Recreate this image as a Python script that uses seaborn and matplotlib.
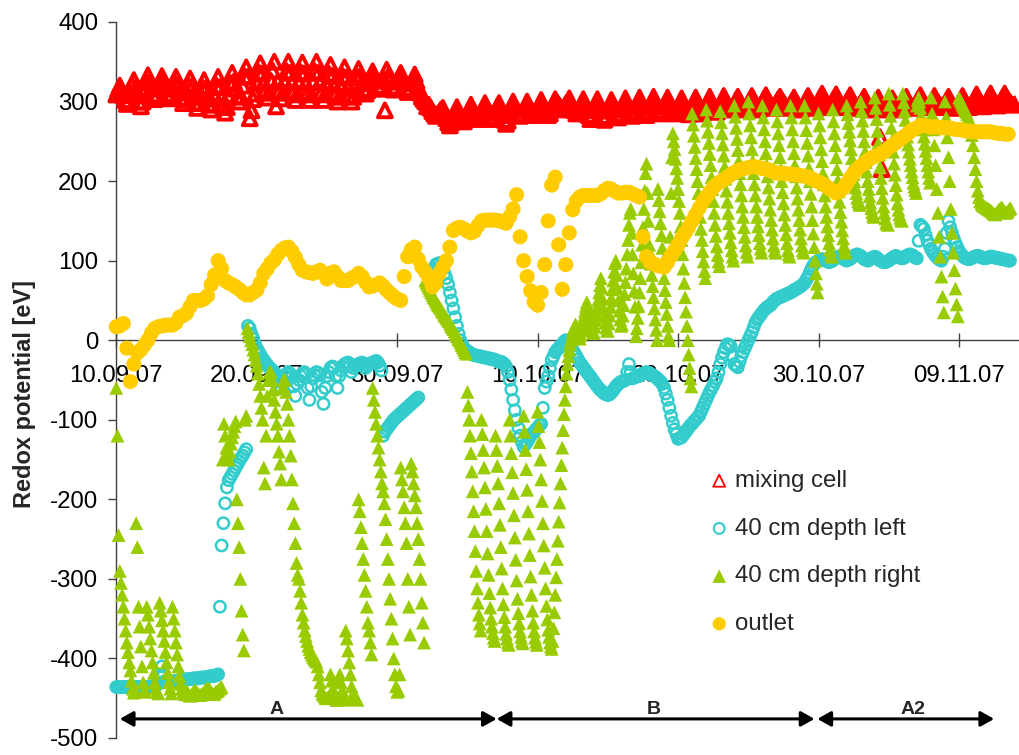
import numpy as np
import pandas as pd
import matplotlib
matplotlib.use("Agg")
import matplotlib.pyplot as plt
import seaborn as sns

# ---------------- data ----------------
start = "2007-09-10 00:00"
nan = np.nan

# mixing cell, one value every 3 h
mixing_cell = [
    309, 315, 320, 313, 308, 302, 297, 302,
    310, 320, 327, 317, 309, 300, 294, 300,
    315, 325, 333, 324, 317, 309, 303, 307,
    317, 325, 332, 324, 317, 310, 304, 308,
    316, 324, 331, 321, 313, 305, 298, 303,
    312, 321, 329, 318, 309, 299, 292, 298,
    308, 318, 327, 316, 307, 297, 290, 296,
    308, 320, 331, 318, 306, 295, 286, 293,
    308, 323, 336, 325, 316, 307, 300, 306,
    320, 332, 343, 331, 279, 289, 303, 310,
    324, 337, 348, 335, 324, 314, 305, 311,
    326, 339, 350, 294, 325, 314, 304, 311,
    325, 338, 350, 336, 324, 312, 302, 309,
    324, 337, 349, 335, 323, 311, 302, 309,
    325, 338, 350, 336, 324, 312, 302, 309,
    323, 335, 346, 332, 321, 309, 300, 306,
    321, 332, 343, 330, 319, 308, 300, 306,
    320, 331, 341, 332, 324, 316, 310, 314,
    325, 332, 338, 331, 326, 320, 316, 319,
    328, 289, 340, 332, 326, 319, 315, 318,
    325, 331, 336, 329, 323, 317, 312, 315,
    323, 329, 334, 326, 318, 311, 306, 303,
    300, 294, 296, 292, 288, 285, 282, 284,
    287, 290, 292, 285, 279, 274, 270, 274,
    282, 288, 293, 287, 282, 278, 275, 278,
    286, 291, 296, 290, 285, 281, 278, 281,
    287, 293, 298, 292, 286, 281, 278, 281,
    288, 294, 298, 290, 283, 277, 272, 276,
    285, 293, 300, 294, 290, 285, 282, 284,
    290, 295, 300, 295, 290, 286, 283, 285,
    291, 297, 302, 296, 291, 287, 283, 285,
    292, 298, 303, 299, 296, 293, 290, 292,
    297, 300, 304, 298, 293, 289, 285, 287,
    293, 298, 303, 295, 289, 283, 278, 282,
    289, 296, 303, 295, 289, 282, 277, 281,
    289, 296, 302, 295, 290, 285, 280, 283,
    292, 298, 304, 297, 292, 287, 282, 285,
    293, 299, 305, 298, 293, 288, 283, 286,
    294, 300, 306, 300, 294, 289, 285, 288,
    294, 300, 305, 299, 294, 289, 285, 287,
    293, 299, 304, 298, 293, 288, 284, 287,
    294, 300, 305, 299, 294, 289, 285, 288,
    295, 301, 306, 300, 296, 291, 287, 290,
    297, 302, 307, 302, 298, 294, 290, 292,
    297, 302, 306, 301, 297, 293, 290, 292,
    298, 303, 307, 302, 298, 294, 290, 293,
    299, 304, 308, 303, 299, 295, 292, 294,
    299, 303, 306, 302, 299, 295, 292, 293,
    297, 301, 305, 300, 297, 293, 290, 293,
    298, 303, 307, 302, 299, 295, 292, 295,
    301, 306, 310, 305, 300, 296, 293, 296,
    301, 305, 309, 304, 300, 296, 293, 295,
    300, 304, 308, 303, 299, 295, 292, 294,
    298, 302, 306, 301, 297, 293, 290, 292,
    297, 301, 305, 255, 215, 294, 290, 292,
    296, 300, 304, 300, 296, 293, 290, 293,
    298, 302, 306, 301, 297, 294, 292, 294,
    300, 304, 308, 303, 299, 296, 293, 295,
    299, 303, 307, 302, 299, 296, 293, 295,
    298, 302, 306, 301, 297, 294, 292, 294,
    299, 303, 307, 302, 298, 295, 293, 295,
    300, 305, 309, 304, 300, 297, 294, 296,
    301, 306, 310, 305, 301, 298, 295, 297,
    302, 306, 310, 305, 302, 299, 296, 298,
]

# 40 cm depth left, one value every 3 h (nan = no record)
depth_left = [
    -436, -436, -436, -436, -436, -436, -436, -436,
    -436, -436, -436, -436, -436, -436, -436, -436,
    -436, -436, -436, -436, -435, -435, -434, -433,
    -432, -420, -410, -420, -428, -429, -430, -430,
    -429, -429, -428, -428, -428, -427, -427, -427,
    -426, -426, -426, -426, -425, -425, -425, -425,
    -424, -424, -424, -424, -423, -423, -422, -422,
    -422, -421, -420, -335, -258, -230, -205, -185,
    -176, -172, -168, -164, -160, -156, -152, -148,
    -145, -141, -137, 18, 15, 8, 2, -5,
    -10, -14, -18, -22, -25, -28, -31, -34,
    -36, -38, -40, -43, -46, -52, -60, -50,
    -45, -42, -40, -42, -46, -58, -70, -55,
    -50, -45, -42, -40, -42, -60, -75, -58,
    -48, -44, -40, -41, -44, -65, -80, -60,
    -45, -40, -35, -33, -34, -45, -60, -45,
    -38, -33, -30, -29, -28, -33, -40, -35,
    -32, -31, -30, -29, -28, -30, -35, -32,
    -30, -29, -28, -27, -26, -28, -32, -38,
    -120, -115, -112, -109, -106, -103, -100, -98,
    -96, -94, -92, -90, -88, -86, -84, -82,
    -80, -78, -76, -74, -72, nan, nan, nan,
    nan, nan, nan, nan, nan, nan, 95, 96,
    97, 94, 90, 84, 78, 70, 60, 50,
    40, 29, 18, 8, 0, -5, -10, -12,
    -14, -15, -17, -18, -19, -19, -20, -20,
    -21, -21, -22, -22, -23, -23, -24, -24,
    -25, -26, -27, -27, -28, -30, -33, -40,
    -50, -62, -75, -88, -100, -110, -120, -128,
    -134, -131, -128, -124, -120, -117, -115, -112,
    -110, -107, -105, -85, -60, -52, -45, -35,
    -25, -20, -15, -12, -10, -7, -5, -2,
    0, -2, -5, -8, -12, -16, -20, -24,
    -28, -31, -34, -37, -40, -43, -46, -49,
    -52, -55, -58, -61, -63, -65, -67, -68,
    -69, -68, -66, -63, -60, -57, -55, -53,
    -52, -51, -50, -40, -30, -40, -48, -47,
    -46, -45, -45, -43, -42, -41, -40, -41,
    -42, -43, -45, -46, -48, -50, -52, -55,
    -60, -67, -75, -85, -95, -104, -112, -118,
    -124, -123, -122, -119, -116, -113, -110, -107,
    -105, -102, -100, -97, -95, -90, -85, -80,
    -75, -70, -65, -61, -57, -52, -48, -40,
    -30, -22, -15, -10, -5, -6, -8, -20,
    -30, -32, -34, -27, -20, -15, -10, -5,
    0, 5, 10, 16, 22, 26, 29, 32,
    35, 38, 40, 42, 43, 45, 48, 50,
    52, 53, 54, 55, 56, 57, 58, 59,
    60, 61, 63, 64, 65, 67, 68, 70,
    72, 76, 80, 85, 90, 94, 97, 99,
    100, 101, 102, 101, 100, 99, 98, 99,
    100, 102, 104, 105, 105, 104, 103, 101,
    100, 101, 102, 104, 106, 107, 108, 107,
    106, 104, 102, 101, 100, 101, 103, 104,
    105, 104, 102, 100, 99, 98, 98, 99,
    100, 102, 103, 105, 106, 105, 104, 103,
    103, 104, 106, 107, 108, 107, 106, 104,
    103, 125, 145, 143, 140, 132, 125, 120,
    115, 111, 108, 105, 103, 101, 100, 105,
    115, 135, 150, 142, 135, 128, 122, 117,
    112, 109, 106, 104, 103, 102, 102, 103,
    104, 105, 106, 106, 105, 104, 103, 103,
    104, 104, 105, 105, 104, 104, 103, 103,
    102, 102, 101, 101, 100, 100,
]

# 40 cm depth right: 10.09.-04.10. every 2 h
right_start_1 = "2007-09-10 00:00"
depth_right_1 = [
    -60, -120, -245, -290, -305, -320, -335, -350, -365, -380, -392, -405,
    -415, -428, -438, -443, -440, -230, -260, -335, -360, -385, -410, -430,
    -440, -442, -335, -345, -360, -375, -390, -405, -418, -430, -438, -442,
    -444, -330, -340, -352, -365, -378, -392, -405, -418, -430, -438, -444,
    -335, -350, -365, -380, -395, -410, -422, -432, -438, -442, -444, -445,
    -440, -443, -446, -447, -446, -444, -442, -440, -441, -443, -445, -446,
    -446, -445, -444, -442, -440, -438, -437, -438, -440, -442, -444, -445,
    -444, -442, -441, -440, -438, -437, -436, -150, -105, -120, -135, -145,
    -150, -140, -130, -122, -115, -108, -102, -200, -230, -260, -300, -340,
    -370, -390, -100, -95, 15, 10, 5, 0, -5, -12, -18, -25,
    -32, -42, -55, -70, -85, -100, -160, -180, -120, -70, -50, -40,
    -40, -50, -62, -75, -90, -105, -120, -140, -155, -175, -60, -50,
    -50, -65, -80, -100, -120, -145, -175, -205, -230, -255, -280, -295,
    -300, -315, -330, -345, -355, -365, -372, -378, -384, -388, -392, -395,
    -398, -400, -402, -404, -410, -420, -430, -440, -444, -446, -448, -450,
    -450, -449, -447, -420, -428, -438, -445, -450, -452, -452, -430, -420,
    -430, -440, -448, -452, -365, -375, -390, -405, -420, -435, -445, -450,
    -448, -450, -452, -200, -215, -235, -255, -275, -295, -315, -335, -355,
    -365, -380, -395, -60, -75, -90, -105, -120, -135, -150, -165, -180,
    -190, -205, -225, -250, -275, -300, -325, -350, -375, -400, -420, -435,
    -442, -440, -420, -160, -175, -190, -210, -230, -255, -300, -335, -370,
    -155, -165, -180, -195, -210, -230, -250, -275, -300, -330, -355, -380,
    75, 72, 69, 66, 63, 60, 57, 54, 52, 49, 46, 44,
    42, 40, 37, 35, 32, 30, 28, 26, 24, 21, 18, 16,
    14, 11, 8, 5, 2, 0, -3, -6, -9, -12, -15, -17,
]

# 40 cm depth right: 05.10.-06.11. every 90 min
right_start_2 = "2007-10-05 00:00"
depth_right_2 = [
    -65, -82, -100, -120, -142, -165, -190, -215, -240, -265, -290, -312, -330, -345, -356, -365,
    -100, -118, -138, -160, -185, -212, -240, -268, -295, -318, -336, -350, -360, -368, -374, -378,
    -120, -138, -158, -180, -205, -232, -260, -287, -312, -332, -348, -360, -369, -375, -380, -383,
    -100, -120, -142, -166, -192, -220, -248, -276, -302, -325, -343, -356, -366, -373, -378, -381,
    -95, -115, -138, -162, -188, -215, -243, -270, -297, -320, -340, -355, -366, -374, -379, -383,
    -90, -108, -128, -150, -175, -202, -230, -258, -286, -312, -334, -351, -364, -373, -380, -385,
    -388, -378, -362, -342, -320, -298, -275, -252, -228, -204, -180, -157, -135, -113, -93, -75,
    -58, -42, -30, -20, -12, -5, 0, 5, 10, 14, 17, 20, 18, 14, 10, 6,
    2, 7, 13, 19, 25, 31, 37, 43, 48, 42, 34, 27, 21, 16, 12, 9,
    10, 17, 25, 33, 42, 51, 60, 69, 78, 66, 52, 40, 30, 22, 16, 12,
    12, 21, 31, 42, 53, 64, 75, 86, 97, 100, 82, 65, 50, 37, 26, 18,
    20, 31, 44, 58, 73, 90, 108, 126, 145, 160, 165, 135, 108, 84, 62, 42,
    5, 15, 28, 43, 60, 78, 98, 120, 142, 165, 188, 210, 222, 185, 150, 120,
    110, 96, 82, 68, 54, 40, 26, 13, 0, 190, 176, 162, 147, 132, 116, 100,
    78, 63, 48, 33, 18, 5, 0, 130, 185, 230, 260, 250, 240, 228, 216, 204,
    190, 175, 160, 143, 126, 108, 90, 72, 54, 36, 18, 0, -18, -35, -48, -58,
    285, 271, 257, 243, 229, 215, 200, 185, 170, 155, 140, 126, 112, 99, 87, 78,
    290, 276, 262, 248, 234, 220, 205, 190, 175, 160, 145, 131, 118, 107, 99, 93,
    288, 274, 260, 246, 232, 218, 203, 188, 174, 160, 147, 135, 123, 113, 105, 100,
    295, 281, 267, 253, 239, 225, 210, 196, 182, 168, 155, 142, 130, 119, 111, 105,
    300, 285, 270, 255, 240, 225, 210, 196, 182, 168, 155, 143, 132, 122, 115, 110,
    295, 280, 265, 250, 235, 220, 206, 192, 178, 164, 151, 139, 128, 119, 113, 110,
    290, 275, 260, 245, 230, 215, 200, 186, 172, 158, 145, 133, 122, 113, 108, 105,
    295, 280, 265, 250, 235, 220, 206, 192, 178, 164, 151, 139, 128, 119, 113, 110,
    295, 280, 264, 248, 232, 216, 200, 184, 168, 151, 134, 117, 100, 84, 71, 60,
    285, 270, 255, 240, 225, 210, 196, 182, 168, 155, 143, 132, 122, 114, 108, 105,
    290, 275, 260, 245, 230, 215, 201, 187, 174, 161, 149, 138, 128, 119, 113, 110,
    295, 284, 273, 262, 251, 240, 229, 219, 209, 200, 192, 185, 179, 175, 172, 170,
    300, 288, 276, 263, 250, 237, 224, 212, 200, 190, 181, 173, 166, 161, 157, 155,
    305, 292, 278, 263, 248, 233, 218, 204, 191, 179, 168, 160, 153, 148, 146, 145,
    310, 296, 282, 267, 252, 237, 222, 208, 195, 183, 172, 164, 158, 154, 151, 150,
    310, 299, 288, 277, 266, 256, 246, 237, 228, 220, 212, 205, 198, 193, 189, 185,
    295, 302, 305, 300, 292, 283, 274, 265, 256, 247, 238, 229, 220, 212, 204, 198,
]

# 40 cm depth right: 07.11.-13.11. every 2 h
right_start_3 = "2007-11-07 00:00"
depth_right_3 = [
    305, 285, 265, 245, 220, 190, 160, 130, 105, 80, 55, 35,
    300, 280, 255, 230, 200, 165, 135, 110, 88, 65, 45, 30,
    305, 302, 299, 296, 293, 290, 287, 284, 280, 275, 268, 258,
    245, 230, 215, 200, 188, 180, 175, 172, 170, 169, 168, 167,
    166, 165, 164, 163, 162, 160, 159, 158, 160, 162, 164, 165,
    167, 166, 164, 162, 160, 161, 163, 165, 166,
]

# outlet, one value every 6 h
outlet = [
    17, 18, 21, -10,    -52, -30, -16, -12,   -6, 0, 9, 15,        17, 18, 19, 19,
    19, 22, 29, 31,     34, 42, 50, 50,       50, 52, 56, 70,      82, 100, 90, 75,
    72, 70, 67, 64,     60, 57, 57, 60,       63, 72, 84, 90,      97, 101, 108, 113,
    116, 117, 112, 104, 95, 88, 86, 85,       84, 86, 88, 84,      77, 84, 86, 80,
    75, 75, 75, 78,     80, 84, 80, 73,       67, 68, 70, 72,      68, 63, 59, 55,
    52, 50, 80, 105,    114, 117, 102, 92,    86, 78, 67, 72,      84, 92, 100, 117,
    138, 141, 142, 140, 137, 135, 137, 144,   150, 151, 151, 151,  151, 150, 149, 147,
    155, 165, 183, 130, 100, 80, 62, 48,      44, 60, 95, 150,     195, 205, 120, 64,
    95, 135, 164, 175,  180, 182, 182, 182,   182, 182, 184, 188,  191, 190, 187, 185,
    185, 186, 186, 184, 182, 180, 130, 105,   98, 96, 94, 93,      92, 98, 106, 113,
    120, 128, 135, 142, 150, 158, 166, 174,   180, 186, 192, 196,  199, 202, 205, 208,
    211, 213, 215, 216, 217, 218, 218, 217,   216, 215, 214, 212,  210, 210, 210, 209,
    209, 208, 208, 207, 206, 205, 203, 201,   199, 197, 194, 191,  188, 185, 187, 191,
    197, 204, 210, 215, 219, 222, 226, 229,   231, 233, 235, 238,  242, 245, 248, 252,
    255, 258, 262, 265, 267, 270, 270, 269,   268, 268, 268, 267,  267, 267, 266, 265,
    265, 264, 263, 263, 262, 262, 262, 262,   262, 262, 261, 260,  260, 259, 259,
]

x_tick_labels = ["10.09.07", "20.09.07", "30.09.07", "10.10.07", "20.10.07", "30.10.07", "09.11.07"]
y_ticks = [-500, -400, -300, -200, -100, 0, 100, 200, 300, 400]

# experimental phases (label, start, end, label position)
phase_names = ["A", "B", "A2"]
phase_start = ["2007-09-10 06:00", "2007-10-07 02:00", "2007-10-29 22:00"]
phase_end = ["2007-10-07 02:00", "2007-10-29 17:00", "2007-11-11 12:00"]
phase_label_at = ["2007-09-21 10:00", "2007-10-18 07:00", "2007-11-05 17:00"]

# ---------------- plotting ----------------
sns.set_theme(style="white")
plt.rcParams["font.family"] = ["Liberation Sans", "DejaVu Sans"]

W, H = 1019, 755
fig = plt.figure(figsize=(W / 100, H / 100), dpi=100)
ax = fig.add_axes([116.3 / W, 1 - 738 / H, (1018 - 116.3) / W, (738 - 22) / H])

t_red = pd.date_range(start, periods=len(mixing_cell), freq="3h")
t_left = pd.date_range(start, periods=len(depth_left), freq="3h")
t_out = pd.date_range(start, periods=len(outlet), freq="6h")
right = pd.concat([
    pd.Series(depth_right_1, index=pd.date_range(right_start_1, periods=len(depth_right_1), freq="2h")),
    pd.Series(depth_right_2, index=pd.date_range(right_start_2, periods=len(depth_right_2), freq="90min")),
    pd.Series(depth_right_3, index=pd.date_range(right_start_3, periods=len(depth_right_3), freq="2h")),
])

RED, CYAN, GREEN, YELLOW = "#FF0000", "#33CCCC", "#99CC00", "#FFCC00"

sns.scatterplot(x=t_red, y=mixing_cell, marker="^", s=100, color=RED,
                edgecolor=RED, linewidth=2.8, ax=ax, label="mixing cell",
                legend=False, clip_on=False, zorder=2)
ax.collections[-1].set_facecolor("none")
ax.collections[-1].set_edgecolor(RED)

sns.scatterplot(x=t_left, y=depth_left, marker="o", s=66, color=CYAN,
                edgecolor=CYAN, linewidth=1.8, ax=ax, label="40 cm depth left",
                legend=False, clip_on=False, zorder=3)
ax.collections[-1].set_facecolor("none")
ax.collections[-1].set_edgecolor(CYAN)

sns.scatterplot(x=right.index, y=right.values, marker="^", s=98, color=GREEN,
                edgecolor="none", linewidth=0, ax=ax, label="40 cm depth right",
                legend=False, clip_on=False, zorder=4)

sns.scatterplot(x=t_out, y=outlet, marker="o", s=118, color=YELLOW,
                edgecolor="none", linewidth=0, ax=ax, label="outlet",
                legend=False, clip_on=False, zorder=5)

# axes
t0 = pd.Timestamp(start)
ax.set_xlim(t0, t0 + pd.Timedelta(days=64.2))
ax.set_ylim(-500, 400)
tick_dates = pd.to_datetime(x_tick_labels, format="%d.%m.%y")
ax.set_xticks(tick_dates)
ax.set_xticklabels(x_tick_labels)
ax.set_yticks(y_ticks)
ax.set_yticklabels([str(v) for v in y_ticks])
ax.set_xlabel("")
ax.set_ylabel("")

for s in ["top", "right"]:
    ax.spines[s].set_visible(False)
ax.spines["bottom"].set_position(("data", 0))
for s in ["bottom", "left"]:
    ax.spines[s].set_color("#404040")
    ax.spines[s].set_linewidth(1.0)
    ax.spines[s].set_zorder(1)

ax.tick_params(axis="x", bottom=True, direction="inout", length=10, width=1,
               color="#404040", pad=13, labelsize=17.3, labelcolor="black")
ax.tick_params(axis="y", left=True, direction="out", length=6, width=1,
               color="#404040", pad=7, labelsize=17.3, labelcolor="black")
ax.grid(False)
ax.set_facecolor("white")

fig.text(25 / W, 1 - 394 / H, "Redox potential [eV]", rotation=90,
         ha="center", va="center", fontsize=17, fontweight="bold")

# phase arrows
for name, a, b, lab in zip(phase_names, phase_start, phase_end, phase_label_at):
    ax.annotate("", xy=(pd.Timestamp(b), -476), xytext=(pd.Timestamp(a), -476),
                arrowprops=dict(arrowstyle="<|-|>,head_length=0.8,head_width=0.45",
                                lw=2.2, color="black", shrinkA=0, shrinkB=0,
                                mutation_scale=10),
                annotation_clip=False, zorder=6)
    ax.text(pd.Timestamp(lab), -464, name, ha="center", va="center",
            fontsize=14, fontweight="bold", zorder=6)

# legend
leg = ax.legend(loc="upper left", bbox_to_anchor=(712 / W, 1 - 470 / H),
                bbox_transform=fig.transFigure, frameon=False, fontsize=17.3,
                handlelength=0.6, handletextpad=0.35, labelspacing=1.07,
                borderaxespad=0, borderpad=0)
for h, sz, lw in zip(leg.legend_handles, [75, 60, 95, 90], [1.3, 1.5, 0, 0]):
    h.set_sizes([sz])
    h.set_linewidth(lw)

fig.savefig("out.png", dpi=100, facecolor="white")
